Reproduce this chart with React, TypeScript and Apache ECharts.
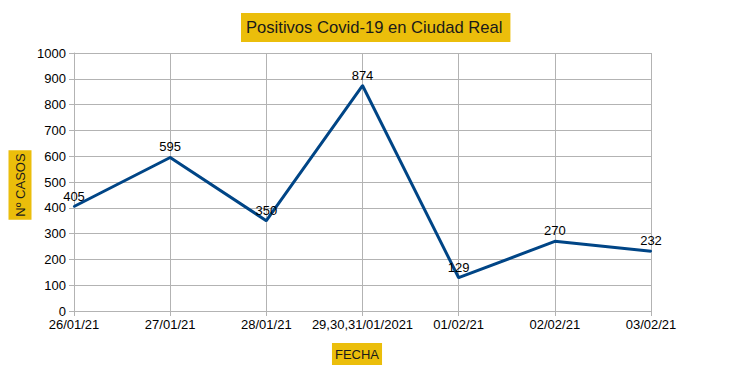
import React, { useEffect, useRef } from "react";
import * as echarts from "echarts";

const categories = ["26/01/21", "27/01/21", "28/01/21", "29,30,31/01/2021", "01/02/21", "02/02/21", "03/02/21"];
const casos = [405, 595, 350, 874, 129, 270, 232];
const titleText = "Positivos Covid-19 en Ciudad Real";
const yName = "Nº CASOS";
const xName = "FECHA";

export default function App() {
  const ref = useRef<HTMLDivElement>(null);
  useEffect(() => {
    if (!ref.current) return;
    const chart = echarts.init(ref.current, null, { renderer: "svg" });
    const font = "'Liberation Sans', Arial, sans-serif";
    chart.setOption({
      animation: false,
      backgroundColor: "#ffffff",
      title: {
        text: titleText,
        left: 241,
        top: 13,
        padding: [6, 8, 6, 5],
        backgroundColor: "#EBBE0B",
        textStyle: { fontFamily: font, fontSize: 16.6, fontWeight: "normal", color: "#1a1a1a" },
      },
      grid: { left: 74, right: 101, top: 53, bottom: 69 },
      xAxis: {
        type: "category",
        data: categories,
        boundaryGap: false,
        axisLine: { lineStyle: { color: "#b3b3b3" } },
        axisTick: { show: true, length: 5, alignWithLabel: true, lineStyle: { color: "#b3b3b3" } },
        axisLabel: { color: "#000", fontFamily: font, fontSize: 13, margin: 7, interval: 0 },
        splitLine: { show: true, lineStyle: { color: "#b3b3b3" } },
      },
      yAxis: {
        type: "value",
        min: 0,
        max: 1000,
        interval: 100,
        axisLine: { show: true, lineStyle: { color: "#b3b3b3" } },
        axisTick: { show: true, length: 5, lineStyle: { color: "#b3b3b3" } },
        axisLabel: { color: "#000", fontFamily: font, fontSize: 13, margin: 8, formatter: (v: number) => String(v) },
        splitLine: { show: true, lineStyle: { color: "#b3b3b3" } },
      },
      graphic: [
        {
          type: "text",
          x: 20,
          y: 185,
          rotation: Math.PI / 2,
          style: {
            text: yName,
            fontFamily: font,
            fontSize: 13,
            fill: "#1a1a1a",
            align: "center",
            verticalAlign: "middle",
            backgroundColor: "#EBBE0B",
            padding: [5, 3, 5, 3],
          },
        },
        {
          type: "text",
          x: 357,
          y: 354,
          style: {
            text: xName,
            fontFamily: font,
            fontSize: 13,
            fill: "#1a1a1a",
            align: "center",
            verticalAlign: "middle",
            backgroundColor: "#EBBE0B",
            padding: [5, 3, 4, 3],
          },
        },
      ],
      series: [
        {
          type: "line",
          data: casos,
          symbol: "circle",
          symbolSize: 2,
          showSymbol: true,
          showAllSymbol: true,
          lineStyle: { color: "#004586", width: 3 },
          itemStyle: { color: "#004586" },
          label: {
            show: true,
            position: "top",
            distance: 3,
            color: "#000",
            fontFamily: font,
            fontSize: 13,
          },
        },
      ],
    });
    return () => chart.dispose();
  }, []);
  return <div ref={ref} style={{ width: 752, height: 380, position: "absolute", left: 0, top: 0 }} />;
}
